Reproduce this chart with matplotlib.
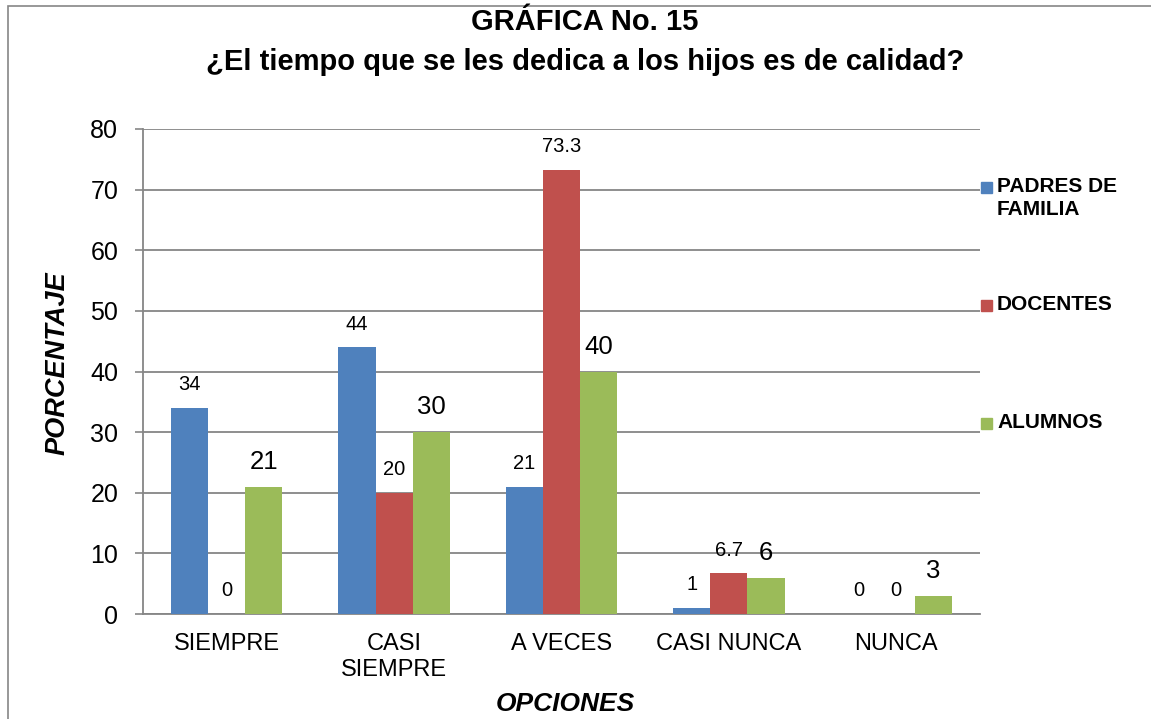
import matplotlib.pyplot as plt
import numpy as np
from matplotlib.patches import Rectangle

plt.rcParams['font.family'] = ['Liberation Sans', 'DejaVu Sans']

categorias = ['SIEMPRE', 'CASI\nSIEMPRE', 'A VECES', 'CASI NUNCA', 'NUNCA']
series = ['PADRES DE\nFAMILIA', 'DOCENTES', 'ALUMNOS']
padres = [34, 44, 21, 1, 0]
docentes = [0, 20, 73.3, 6.7, 0]
alumnos = [21, 30, 40, 6, 3]
etiquetas_docentes = ['0', '20', '73.3', '6.7', '0']
colores = ['#4F81BD', '#C0504D', '#9BBB59']

W, H = 1151, 719
fig = plt.figure(figsize=(W / 100, H / 100), dpi=100)
ax = fig.add_axes([143 / W, 1 - 614 / H, (980 - 143) / W, (614 - 129) / H])

x = np.arange(len(categorias))
ancho = 0.222
valores = [padres, docentes, alumnos]
for i, (vals, col) in enumerate(zip(valores, colores)):
    barras = ax.bar(x + (i - 1) * ancho, vals, ancho, color=col, zorder=3)
    for j, b in enumerate(barras):
        if i == 1:
            txt = etiquetas_docentes[j]
        else:
            txt = str(vals[j])
        tam = 18.5 if i == 2 else 14.5
        off = 25 if i == 2 else 23
        ax.annotate(txt, (b.get_x() + b.get_width() / 2, b.get_height()),
                    xytext=(0, off * 0.72), textcoords='offset points',
                    ha='center', va='center', fontsize=tam, zorder=4)

ax.set_xlim(-0.5, 4.5)
ax.set_ylim(0, 80)
ax.set_yticks(range(0, 81, 10))
ax.set_xticks(x)
ax.set_xticklabels(categorias, fontsize=17, linespacing=1.2)
ax.tick_params(axis='y', labelsize=18, length=5.8, color='#868686', width=1.2, pad=12)
ax.tick_params(axis='x', length=0, pad=14)
ax.grid(axis='y', color='#868686', linewidth=1.3, zorder=0)
for s in ['top', 'right']:
    ax.spines[s].set_visible(False)
for s in ['left', 'bottom']:
    ax.spines[s].set_color('#868686')
    ax.spines[s].set_linewidth(1.3)

ax.set_ylabel('PORCENTAJE', fontsize=19.5, fontweight='bold', style='italic')
ax.yaxis.set_label_coords((71 - 143) / 837, (614 - 363) / 485)
fig.text(565 / W, 1 - 704 / H, 'OPCIONES', fontsize=19, fontweight='bold',
         style='italic', ha='center', va='center')

fig.text(585 / W, 1 - 22 / H, 'GRÁFICA No. 15', fontsize=21, fontweight='bold',
         ha='center', va='center')
fig.text(585 / W, 1 - 62 / H, '¿El tiempo que se les dedica a los hijos es de calidad?',
         fontsize=21, fontweight='bold', ha='center', va='center')

# leyenda
for k, (nombre, col) in enumerate(zip(series, colores)):
    yc = 188 + k * 118
    fig.patches.append(Rectangle((981 / W, 1 - (yc + 5) / H), 11 / W, 11 / H,
                                 transform=fig.transFigure, color=col))
    fig.text(997 / W, 1 - (yc - 11) / H, nombre, fontsize=15, fontweight='bold',
             ha='left', va='top', linespacing=1.25)

# marco
fig.patches.append(Rectangle((8 / W, -0.01), 1.02, 1 - 6 / H + 0.01,
                             transform=fig.transFigure, fill=False,
                             edgecolor='#868686', linewidth=1.2))

fig.savefig('out.png', dpi=100)
